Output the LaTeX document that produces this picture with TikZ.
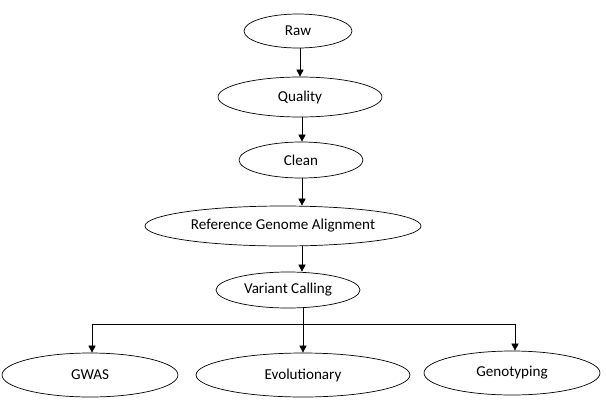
\documentclass[tikz,border=0pt]{standalone}
\usepackage{fontspec}
\setmainfont{Carlito}
\usetikzlibrary{shapes.geometric,arrows.meta}

\tikzset{
  stage/.style={draw, ellipse, inner sep=0pt, font=\fontsize{8.6}{10}\selectfont},
  flow/.style={-{Triangle[length=4pt,width=4pt]}}
}

\begin{document}
\begin{tikzpicture}[x=0.02cm, y=-0.02cm]
\useasboundingbox (0,0) rectangle (606,400);

% pipeline stages
\node[stage, minimum width=2.16cm, minimum height=0.68cm] (raw) at (298,31) {Raw};
\node[stage, minimum width=3.28cm, minimum height=0.8cm] (quality) at (300,97) {Quality};
\node[stage, minimum width=2.48cm, minimum height=0.72cm] (clean) at (301,160) {Clean};
\node[stage, minimum width=5.52cm, minimum height=0.8cm] (align) at (283,226) {Reference Genome Alignment};
\node[stage, minimum width=2.88cm, minimum height=0.72cm] (variant) at (288,290) {Variant Calling};

% downstream analyses
\node[stage, minimum width=3.52cm, minimum height=0.88cm] (gwas) at (90,375) {GWAS};
\node[stage, minimum width=4.28cm, minimum height=0.88cm] (evol) at (303,375) {Evolutionary};
\node[stage, minimum width=3.52cm, minimum height=0.88cm] (geno) at (512,373) {Genotyping};

\draw[flow] (raw.south -| 300,0) -- (quality.north -| 300,0);
\draw[flow] (quality.south -| 302,0) -- (clean.north -| 302,0);
\draw[flow] (clean.south -| 302,0) -- (align.north -| 302,0);
\draw[flow] (align.south -| 302,0) -- (variant.north -| 302,0);

\coordinate (split) at (303,324);
\draw (variant.south -| 303,0) -- (split);
\draw[flow] (split) -| (gwas.north -| 92,0);
\draw[flow] (split) -- (evol.north -| 303,0);
\draw[flow] (split) -| (geno.north -| 515,0);
\end{tikzpicture}
\end{document}
